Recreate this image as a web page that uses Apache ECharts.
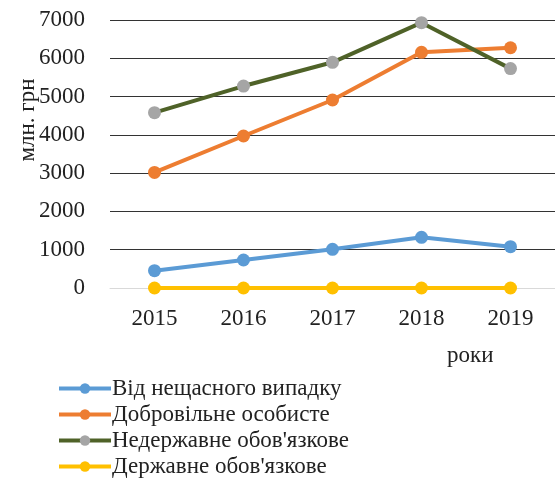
<!DOCTYPE html>
<html><head><meta charset="utf-8">
<script src="https://cdn.jsdelivr.net/npm/echarts@6/dist/echarts.min.js"></script>
<style>html,body{margin:0;padding:0;background:#fff}#c{width:555px;height:480px}</style>
</head><body><div id="c"></div>
<script>
const categories = ['2015', '2016', '2017', '2018', '2019'];
const accident = [452, 731, 1010, 1324, 1080];
const voluntary = [3020, 3970, 4910, 6155, 6275];
const nonStateMandatory = [4580, 5275, 5895, 6930, 5730];
const stateMandatory = [0, 0, 0, 0, 0];
const seriesNames = ['Від нещасного випадку', 'Добровільне особисте', 'Недержавне обов\'язкове', 'Державне обов\'язкове'];

const font = '"Liberation Serif", "Times New Roman", serif';
const chart = echarts.init(document.getElementById('c'));
function line(name, data, lineColor, markColor) {
  return {
    name, type: 'line', data,
    symbol: 'circle', symbolSize: 13,
    lineStyle: { width: 4, color: lineColor },
    itemStyle: { color: markColor },
    emphasis: { disabled: true },
    animation: false
  };
}
chart.setOption({
  animation: false,
  grid: { left: 110, right: 0, top: 20, bottom: 192 },
  xAxis: {
    type: 'category', data: categories,
    axisLine: { lineStyle: { color: '#d9d9d9' } },
    axisTick: { show: false },
    axisLabel: { fontFamily: font, fontSize: 23, color: '#222', margin: 19 }
  },
  yAxis: {
    type: 'value', min: 0, max: 7000, interval: 1000,
    axisLine: { show: false }, axisTick: { show: false },
    axisLabel: { fontFamily: font, fontSize: 23, color: '#222', margin: 25, formatter: v => String(v) },
    splitLine: { lineStyle: { color: ['#d9d9d9', '#333', '#333', '#333', '#333', '#333', '#333', '#333'], width: 1 } }
  },
  legend: {
    orient: 'vertical', left: 52, top: 372, height: 120,
    itemWidth: 52, itemHeight: 13, itemGap: 3,
    lineStyle: { width: 4 },
    textStyle: { fontFamily: font, fontSize: 23, color: '#222', padding: [0, 0, 0, -4] },
    data: seriesNames
  },
  graphic: [{
    type: 'text', x: 28, y: 120, rotation: Math.PI / 2,
    style: { text: 'млн. грн', font: '23px ' + font, fill: '#222', align: 'center', verticalAlign: 'middle' }
  }, {
    type: 'text', left: 447, top: 344,
    style: { text: 'роки', font: '23px ' + font, fill: '#222' }
  }],
  series: [
    line(seriesNames[0], accident, '#5b9bd5', '#5b9bd5'),
    line(seriesNames[1], voluntary, '#ed7d31', '#ed7d31'),
    line(seriesNames[2], nonStateMandatory, '#4f6228', '#a5a5a5'),
    line(seriesNames[3], stateMandatory, '#ffc000', '#ffc000')
  ]
});
</script></body></html>
